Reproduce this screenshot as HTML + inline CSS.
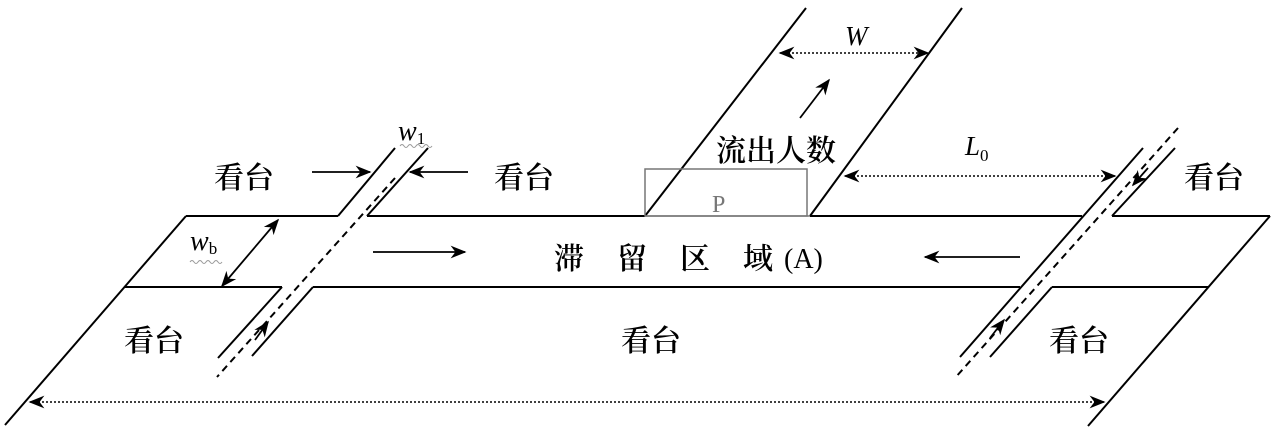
<!DOCTYPE html>
<html><head><meta charset="utf-8"><style>
html,body{margin:0;padding:0;background:#fff;}
svg{display:block;}
text{font-family:"Liberation Serif","Noto Serif CJK SC",serif;fill:#000;}
.cj{font-family:"Liberation Serif","Noto Serif CJK SC","Noto Sans CJK SC",serif;font-size:30px;font-weight:600;}
</style></head><body>
<svg width="1280" height="438" viewBox="0 0 1280 438" xmlns="http://www.w3.org/2000/svg">
<defs>
<marker id="b" viewBox="0 0 10 10" refX="9" refY="5" markerWidth="16" markerHeight="16" markerUnits="userSpaceOnUse" orient="auto-start-reverse">
<path d="M0,1 L10,5 L0,9 L3,5 z" fill="#000"/></marker>
</defs>
<g stroke="#000" stroke-width="2" fill="none">
<line x1="186" y1="216" x2="5" y2="425"/>
<line x1="1270" y1="216" x2="1088" y2="426"/>
<line x1="186" y1="216" x2="338" y2="216"/>
<line x1="367" y1="216" x2="645" y2="216"/>
<line x1="810" y1="216" x2="1082" y2="216"/>
<line x1="1112" y1="216" x2="1270" y2="216"/>
<line x1="125" y1="287" x2="282" y2="287"/>
<line x1="313" y1="287" x2="1020" y2="287"/>
<line x1="1052" y1="287" x2="1208" y2="287"/>
<line x1="395" y1="148" x2="338" y2="216"/>
<line x1="428" y1="148" x2="367" y2="216"/>
<line x1="282" y1="287" x2="218" y2="358"/>
<line x1="313" y1="287" x2="252" y2="356"/>
<line x1="395" y1="178" x2="217" y2="377" stroke-dasharray="7,5"/>
<line x1="1143" y1="148" x2="960" y2="357"/>
<line x1="1175" y1="148" x2="1112" y2="216"/>
<line x1="1052" y1="287" x2="990" y2="357"/>
<line x1="1178" y1="128" x2="955" y2="378" stroke-dasharray="7,5"/>
<line x1="645" y1="216" x2="806" y2="8"/>
<line x1="810" y1="216" x2="962" y2="8"/>
</g>
<rect x="645" y="169" width="162" height="47" fill="none" stroke="#777" stroke-width="1.5"/>
<line x1="645" y1="216" x2="810" y2="216" stroke="#777" stroke-width="1.5"/>
<g stroke="#000" stroke-width="1.8" fill="none">
<line x1="312" y1="172" x2="370" y2="172" marker-end="url(#b)"/>
<line x1="468" y1="172" x2="410" y2="172" marker-end="url(#b)"/>
<line x1="373" y1="252" x2="465" y2="252" marker-end="url(#b)"/>
<line x1="1020" y1="257" x2="925" y2="257" marker-end="url(#b)"/>
<line x1="800" y1="118" x2="829" y2="80" marker-end="url(#b)"/>
<line x1="278" y1="220" x2="222" y2="286" marker-start="url(#b)" marker-end="url(#b)"/>
<line x1="255" y1="340" x2="268" y2="322" marker-end="url(#b)"/>
<line x1="990" y1="338" x2="1004" y2="320" marker-end="url(#b)"/>
<line x1="1148" y1="168" x2="1133" y2="185" marker-end="url(#b)"/>
</g>
<g stroke="#000" stroke-width="1.6" stroke-dasharray="2,2" fill="none">
<line x1="780" y1="53" x2="928" y2="53" marker-start="url(#b)" marker-end="url(#b)"/>
<line x1="845" y1="176" x2="1115" y2="176" marker-start="url(#b)" marker-end="url(#b)"/>
<line x1="30" y1="402" x2="1104" y2="402" marker-start="url(#b)" marker-end="url(#b)"/>
</g>
<text class="cj" x="214" y="188">看台</text>
<text class="cj" x="494" y="188">看台</text>
<text class="cj" x="1184" y="188">看台</text>
<text class="cj" x="124" y="351">看台</text>
<text class="cj" x="621" y="351">看台</text>
<text class="cj" x="1049" y="351">看台</text>
<text class="cj" x="716" y="161">流出人数</text>
<text class="cj" x="554" y="269" style="letter-spacing:33px">滞留区域</text>
<text x="784" y="268" style="font-size:28px">(A)</text>
<text x="712" y="212" style="font-size:24px;fill:#777">P</text>
<text x="845" y="45" style="font-size:27px;font-style:italic">W</text>
<text x="965" y="155" style="font-size:27px;font-style:italic">L<tspan style="font-size:17px;font-style:normal" dy="6">0</tspan></text>
<text x="398" y="140" style="font-size:28px;font-style:italic">w<tspan style="font-size:17px;font-style:normal" dy="4">1</tspan></text>
<text x="190" y="250" style="font-size:28px;font-style:italic">w<tspan style="font-size:17px;font-style:normal" dy="4">b</tspan></text>
<path d="M400,146 q2,-3 4,0 t4,0 t4,0 t4,0 t4,0 t4,0 t4,0 t4,0" stroke="#999" fill="none" stroke-width="1"/>
<path d="M190,262 q2,-3 4,0 t4,0 t4,0 t4,0 t4,0 t4,0 t4,0 t4,0" stroke="#999" fill="none" stroke-width="1"/>
</svg>
</body></html>
